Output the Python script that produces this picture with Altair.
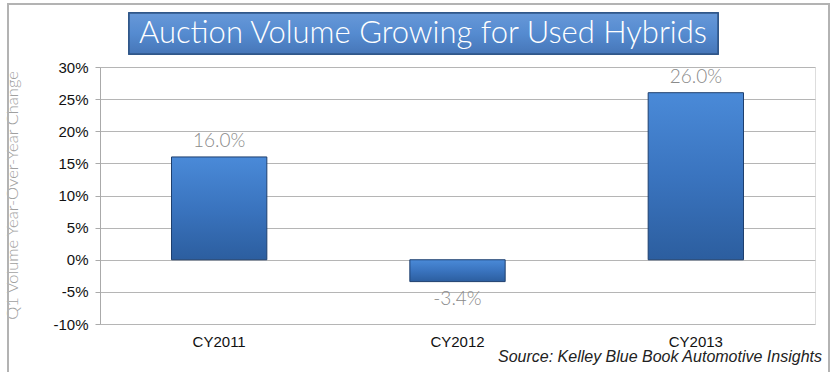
import altair as alt
import pandas as pd

categories = ["CY2011", "CY2012", "CY2013"]
values = [16.0, -3.4, 26.0]
labels = ["16.0%", "-3.4%", "26.0%"]
y_ticks = [-10, -5, 0, 5, 10, 15, 20, 25, 30]

df = pd.DataFrame({"cat": categories, "val": values, "label": labels})

W, H = 715, 257

x_axis = alt.Axis(title=None, domain=False, ticks=False, labelPadding=10,
                  labelFontSize=15, labelColor="#111111", labelFont="Liberation Sans",
                  labelAngle=0)
y_axis = alt.Axis(values=y_ticks, tickCount=9, labelExpr="datum.value + '%'", labelOverlap=False,
                  title="Q1 Volume Year-Over-Year Change",
                  titleColor="#a0a0a0", titleFontSize=16.5, titleFontWeight=300,
                  titleFont="Lato", titleX=-88, titleY=128, titleAngle=-90,
                  titleAlign="center", titleBaseline="middle",
                  labelFontSize=15, labelColor="#111111", labelFont="Liberation Sans",
                  tickSize=5, tickColor="#aaaaaa", domainColor="#aaaaaa",
                  gridColor="#b5b5b5", gridWidth=1, labelPadding=7)
x_scale = alt.Scale(paddingInner=0.6, paddingOuter=0.3)
y_scale = alt.Scale(domain=[-10, 30], nice=False)

x_enc = alt.X("cat:N", sort=categories, scale=x_scale, axis=x_axis)
y_enc = alt.Y("val:Q", scale=y_scale, axis=y_axis)

bars = alt.Chart(df).mark_bar(
    color=alt.Gradient(gradient="linear", x1=0, y1=0, x2=0, y2=1,
                       stops=[alt.GradientStop(color="#4a8ad8", offset=0),
                              alt.GradientStop(color="#3a74bf", offset=0.5),
                              alt.GradientStop(color="#2c5e9f", offset=1)]),
    stroke="#1e3f6e", strokeWidth=1
).encode(x=x_enc, y=y_enc, y2=alt.datum(0))

pos_labels = alt.Chart(df).transform_filter("datum.val >= 0").mark_text(
    baseline="bottom", dy=-6, fontSize=19, color="#8a8a8a", font="Lato", fontWeight=300
).encode(x=x_enc, y=y_enc, text="label:N")

neg_labels = alt.Chart(df).transform_filter("datum.val < 0").mark_text(
    baseline="top", dy=8, fontSize=19, color="#8a8a8a", font="Lato", fontWeight=300
).encode(x=x_enc, y=y_enc, text="label:N")

title_box = alt.Chart(df).mark_rect(
    color=alt.Gradient(gradient="linear", x1=0, y1=0, x2=0, y2=1,
                       stops=[alt.GradientStop(color="#6798d8", offset=0),
                              alt.GradientStop(color="#558bd0", offset=0.5),
                              alt.GradientStop(color="#4676b8", offset=1)]),
    stroke="#2f5588", strokeWidth=1.5, clip=False
).encode(x=alt.value(29), x2=alt.value(618), y=alt.value(-54), y2=alt.value(-13))

title_text = alt.Chart(pd.DataFrame({"t": ["Auction Volume Growing for Used Hybrids"]})).mark_text(
    fontSize=31, color="white", font="Lato", fontWeight=300, align="center", baseline="middle"
).encode(x=alt.value(323), y=alt.value(-33), text="t:N")

source = alt.Chart(pd.DataFrame({"t": ["Source: Kelley Blue Book Automotive Insights"]})).mark_text(
    fontSize=16, color="#222222", font="Liberation Sans", fontStyle="italic", align="right", baseline="middle"
).encode(x=alt.value(722), y=alt.value(290), text="t:N")

border = alt.Chart(df).mark_rect(
    fill=None, stroke="#b3b3b3", strokeWidth=2, clip=False
).encode(x=alt.value(-92), x2=alt.value(729), y=alt.value(-63), y2=alt.value(320))

chart = alt.layer(border, bars, pos_labels, neg_labels, title_box, title_text, source).properties(
    width=W, height=H,
    autosize=alt.AutoSizeParams(type="none"),
    padding={"left": 100, "top": 67, "right": 21, "bottom": 48},
).configure_view(stroke=None).configure(background="white")

chart.save("out.html", embed_options={"renderer": "svg", "actions": False})
